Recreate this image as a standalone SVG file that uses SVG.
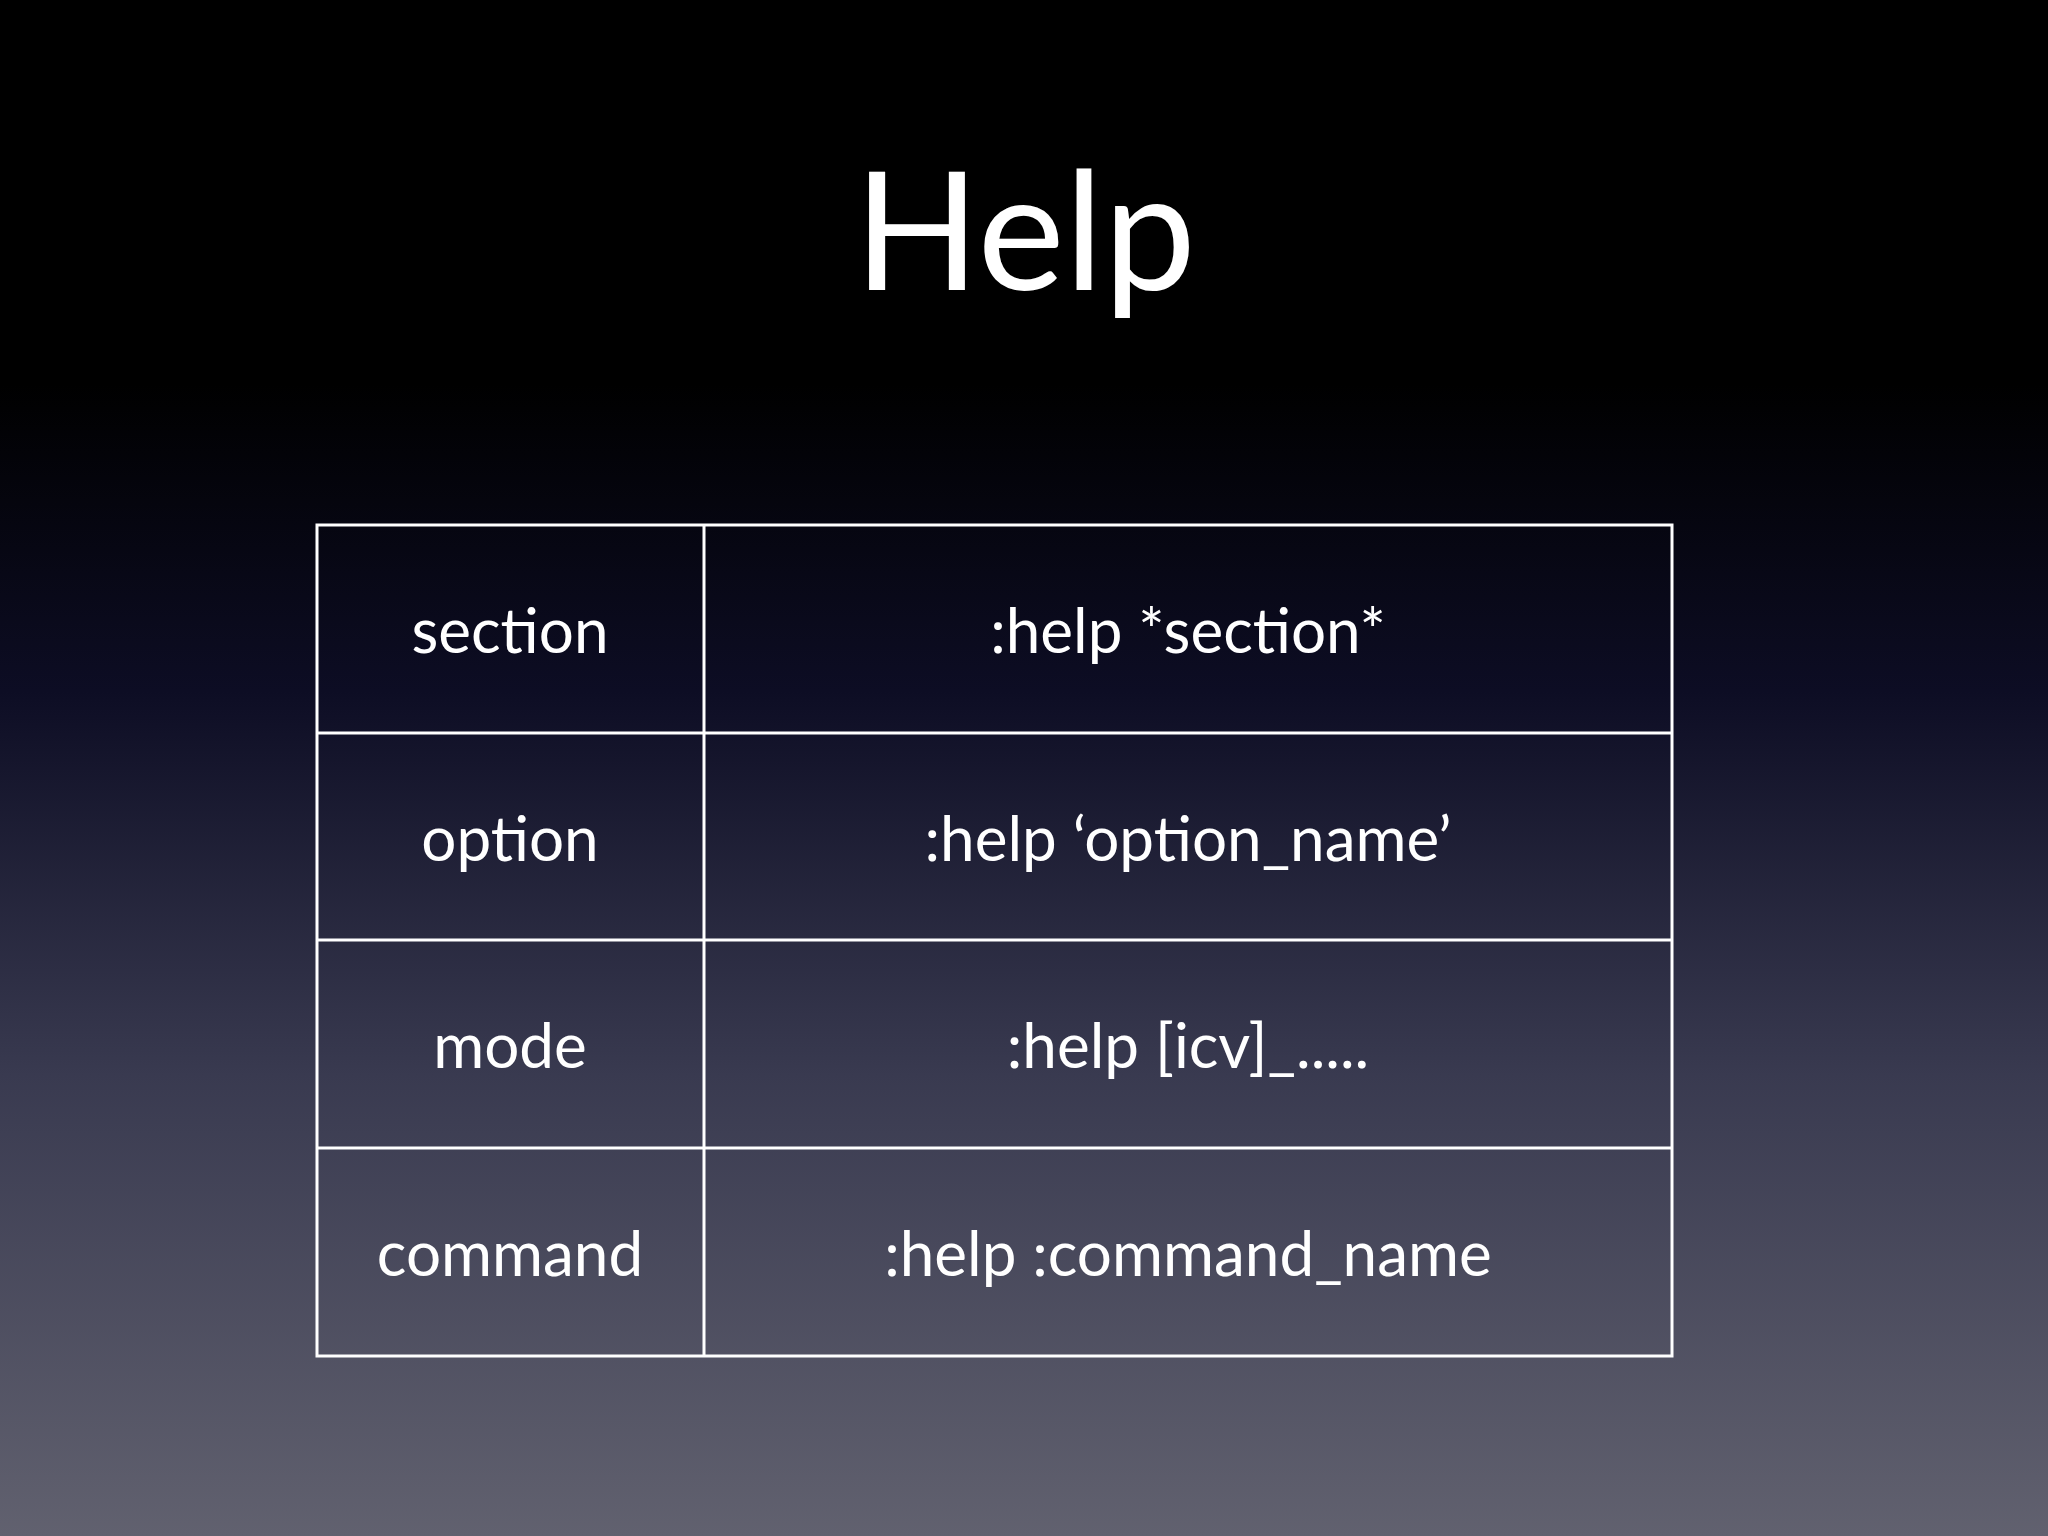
<svg xmlns="http://www.w3.org/2000/svg" width="2048" height="1536" viewBox="0 0 2048 1536">
<defs>
<linearGradient id="bg" x1="0" y1="0" x2="0" y2="1">
<stop offset="0" stop-color="#000000"/>
<stop offset="0.25" stop-color="#000000"/>
<stop offset="0.45" stop-color="#0d0d24"/>
<stop offset="0.7" stop-color="#393a50"/>
<stop offset="1" stop-color="#61616f"/>
</linearGradient>
<style>
.t{fill:#fff;font-family:Lato,"Open Sans",sans-serif;text-anchor:middle;font-size:62px}
.l{stroke:#fff;stroke-width:3;fill:none}
</style>
</defs>
<rect width="2048" height="1536" fill="url(#bg)"/>
<text x="1025" y="290" class="t" style="font-size:165px">Help</text>
<g id="table">
<rect class="l" x="317" y="525" width="1355" height="831"/>
<line class="l" x1="704" y1="525" x2="704" y2="1356"/>
<line class="l" x1="317" y1="733" x2="1672" y2="733"/>
<line class="l" x1="317" y1="940" x2="1672" y2="940"/>
<line class="l" x1="317" y1="1148" x2="1672" y2="1148"/>
</g>
<g id="r1"><text class="t" x="510" y="653">section</text><text class="t" x="1188" y="653">:help *section*</text></g>
<g id="r2"><text class="t" x="510" y="861">option</text><text class="t" x="1188" y="861">:help ‘option_name’</text></g>
<g id="r3"><text class="t" x="510" y="1068">mode</text><text class="t" x="1188" y="1068">:help [icv]_.....</text></g>
<g id="r4"><text class="t" x="510" y="1276">command</text><text class="t" x="1188" y="1276">:help :command_name</text></g>
</svg>
